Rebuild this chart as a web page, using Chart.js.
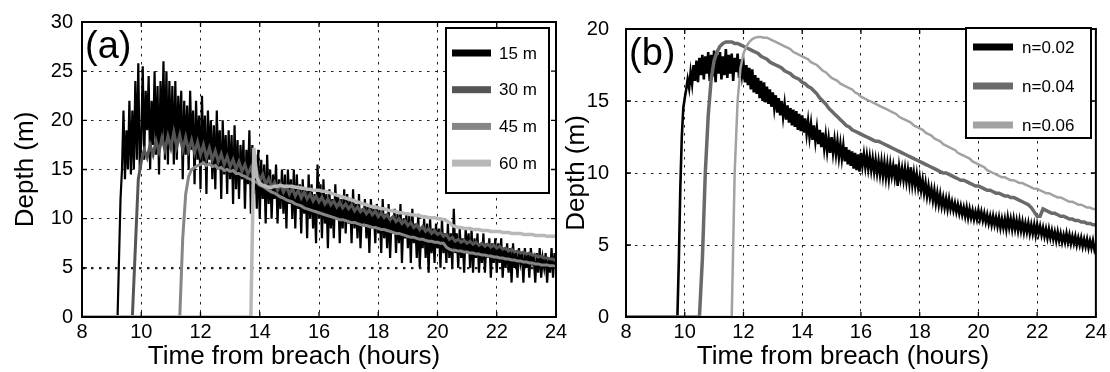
<!DOCTYPE html>
<html><head><meta charset="utf-8">
<script src="https://cdn.jsdelivr.net/npm/chart.js@4.4.1/dist/chart.umd.min.js"></script>
<style>
html,body{margin:0;padding:0;background:#fff;}
#wrap{position:relative;width:1110px;height:372px;overflow:hidden;background:#fff;}
canvas{position:absolute;top:0;}
#ca{left:0;width:600px;height:372px;}
#cb{left:555px;width:555px;height:372px;}
</style></head><body>
<div id="wrap"><canvas id="ca" width="600" height="372"></canvas><canvas id="cb" width="555" height="372"></canvas></div>
<script>
// ---------- data ----------
const startHour = 8;
const xTicks = [8, 10, 12, 14, 16, 18, 20, 22, 24];
const yTicksA = [0, 5, 10, 15, 20, 25, 30];
const yTicksB = [0, 5, 10, 15, 20];
const labelsA = ['15 m', '30 m', '45 m', '60 m'];
const labelsB = ['n=0.02', 'n=0.04', 'n=0.06'];
const xTitle = 'Time from breach (hours)';
const yTitle = 'Depth (m)';

// panel (a) 15 m : first sample 9.20 h, every 0.05 h
const start15 = 9.2, step15 = 0.05;
const depth15 = [0, 6, 12, 15, 21, 14, 19, 15, 22, 14.5, 21, 15, 24, 16, 25.8, 15,
 18, 25.5, 16, 23, 19, 24.5, 15, 22, 17.5, 25, 16.5, 23.5, 14.5, 24, 18, 26, 16, 25, 15.5, 24,
 17, 23.5, 15.5, 24, 16, 22.5, 18, 23, 14, 22, 16.5, 21.5, 15, 23, 17, 21, 13.5, 22, 16, 20.5,
 13, 22.5, 15.5, 20.5, 12.5, 21, 16, 20, 14, 19.5, 13, 21, 15, 19, 12, 20, 14.5, 18.5, 12.5, 19,
 14, 18.5, 11.5, 19.5, 13, 18, 12, 17.5, 14, 18, 11, 17, 13.5, 19, 10.5, 17.5, 12.5, 16.5, 11, 17,
 10, 16, 12, 15.5, 9.5, 16.5, 11.5, 15, 10, 14.5, 12, 15.5, 9.5, 14, 11, 15, 10.5, 14.5, 9, 15,
 11.5, 14, 10, 15, 9, 14.5, 11, 13.5, 8.5, 14, 10.5, 13, 8, 14.5, 10, 13.5, 9, 12.5, 7.5, 15.5,
 10, 13.5, 8, 14, 9.5, 12.5, 7, 13, 9, 12, 8, 13.5, 10, 12.5, 7.5, 12, 9, 13, 8.5, 12.5,
 9.5, 12, 7.5, 13, 9, 11.5, 8, 12.5, 7, 11, 9.5, 12, 8, 11.5, 6.5, 12, 9, 11, 7.5, 11.5,
 8.5, 11, 6.5, 12, 8, 10.5, 7, 11.5, 6, 10, 8.5, 11, 6.5, 10.5, 7.5, 11.5, 5.5, 10, 8, 10.5,
 7, 10.5, 5.5, 11, 7.5, 9.5, 6, 10.5, 5, 9, 7, 10, 6, 9.5, 4.5, 10, 6.5, 9, 5.5, 9.5,
 7, 9, 5, 10, 6.5, 8.5, 5.5, 9.5, 6, 8.5, 5, 11, 6.5, 8.5, 5, 9, 6, 8, 4.5, 9,
 6.5, 8.5, 5, 9, 4.5, 8, 6, 8.5, 4.5, 7.5, 5.5, 8.5, 4.5, 7.5, 6, 8, 4, 7.5, 5.5, 8,
 4.5, 7.5, 5.5, 8, 4, 7, 5, 7.5, 4.5, 7, 3.5, 7.5, 5, 6.5, 4, 7, 5.5, 6.5, 3.5, 7,
 5, 6.5, 4, 7, 5.5, 6, 3.5, 6.5, 4.5, 7, 4, 6, 5, 6.5, 3.5, 6, 4.5, 7, 4, 6.5,
 5];

// panel (a) 30 m : first sample 9.7 h, every 0.1 h
const start30 = 9.7, step30 = 0.1;
const depth30 = [0, 7, 14,
 15.8, 17, 16.2, 17.5, 16.5, 17.9, 16.8, 18.2, 17, 18.4,
 17.2, 18.8, 17.3, 18.5, 17, 18.3, 16.9, 18, 16.7, 17.8,
 16.5, 17.5, 16.2, 17.2, 16, 16.9, 15.8, 16.6, 15.5, 16.3,
 15.3, 16, 15, 15.8, 14.8, 15.5, 14.5, 15.2, 14.2, 14.9,
 13.8, 14.5, 13.5, 14.1, 13.2, 13.7, 12.9, 13.5, 12.7, 13.3,
 12.5, 13.1, 12.3, 12.9, 12.1, 12.7, 12, 12.5, 11.8, 12.3,
 11.7, 12.2, 11.5, 12, 11.4, 11.8, 11.2, 11.7, 11.1, 11.5,
 11, 11.4, 10.8, 11.2, 10.7, 11, 10.5, 10.9, 10.4, 10.8,
 10.2, 10.6, 10.1, 10.4, 9.9, 10.2, 9.7, 10, 9.5, 9.8,
 9.3, 9.6, 9.1, 9.4, 8.9, 9.2, 8.7, 9, 8.5, 8.8,
 8.4, 8.6, 8.2, 8.4, 7.9, 8.1, 7.7, 7.9, 7.6, 7.8,
 7.5, 7.7, 7.4, 7.6, 7.3, 7.5, 7.2, 7.4, 7.1, 7.3,
 7, 7.2, 6.9, 7, 6.7, 6.9, 6.6, 6.7, 6.5, 6.6,
 6.4, 6.5, 6.3, 6.3, 6.1, 6.2, 6, 6, 5.9, 5.9,
 5.7];

// panel (a) 45 m : first sample 11.3 h, every 0.1 h
const start45 = 11.3, step45 = 0.1;
const depth45 = [0, 8, 12.5, 14.3, 15, 15.2, 15.4,
 15.5, 15.7, 15.4, 15.6, 15.3, 15.4, 15.1, 15.2, 14.9, 15,
 14.8, 14.9, 14.6, 14.6, 14.4, 14.3, 14.1, 14, 13.8, 13.7,
 13.4, 13.3, 13.1, 12.9, 12.7, 12.6, 12.4, 12.2, 12.1, 11.9,
 11.8, 11.7, 11.5, 11.4, 11.3, 11.1, 11, 10.9, 10.8, 10.7,
 10.6, 10.5, 10.4, 10.3, 10.2, 10.1, 10, 9.9, 9.9, 9.8,
 9.7, 9.6, 9.6, 9.5, 9.4, 9.3, 9.3, 9.2, 9.1, 9.1,
 9, 8.9, 8.9, 8.8, 8.7, 8.6, 8.5, 8.5, 8.4, 8.3,
 8.2, 8.1, 8.1, 8, 7.9, 7.9, 7.8, 7.7, 7.7, 7.6,
 7.6, 7.5, 7.5, 7.1, 6.9, 6.8, 6.8, 6.7, 6.7, 6.6,
 6.6, 6.5, 6.5, 6.4, 6.4, 6.3, 6.3, 6.2, 6.2, 6.1,
 6.1, 6, 6, 5.9, 5.9, 5.8, 5.8, 5.7, 5.7, 5.6,
 5.6, 5.5, 5.5, 5.4, 5.4, 5.3, 5.3, 5.3, 5.2, 5.2,
 5.1];

// panel (a) 60 m : first sample 13.7 h, every 0.1 h
const start60 = 13.7, step60 = 0.1;
const depth60 = [0, 17.2, 14.2,
 13.6, 13.4, 13.3, 13.2, 13.2, 13.3, 13.3, 13.4, 13.3, 13.3,
 13.3, 13.3, 13.2, 13.2, 13.1, 13.1, 13, 13, 12.9, 12.9,
 12.9, 12.8, 12.8, 12.7, 12.6, 12.5, 12.4, 12.3, 12.2, 12.1,
 12, 11.9, 11.8, 11.7, 11.6, 11.5, 11.4, 11.3, 11.2, 11.2,
 11.1, 11, 11, 10.9, 10.8, 10.8, 10.7, 10.6, 10.6, 10.5,
 10.5, 10.4, 10.4, 10.3, 10.3, 10.2, 10.2, 10.1, 10.1, 10.1,
 10, 10, 9.9, 9.8, 9.6, 9.3, 9.2, 9.1, 9.1, 9,
 9, 9, 8.9, 8.9, 8.9, 8.8, 8.8, 8.8, 8.7, 8.7,
 8.7, 8.7, 8.6, 8.6, 8.6, 8.5, 8.5, 8.5, 8.5, 8.4,
 8.4, 8.4, 8.4, 8.3, 8.3, 8.3, 8.3, 8.2, 8.2, 8.2,
 8.2];

// panel (b) n=0.02 : first sample 9.75 h, every 0.05 h
const start002 = 9.75, step002 = 0.05;
const depth002 = [0, 4, 9, 12.5, 14.5,
 15.2, 15.8, 16.5, 15.9, 17, 16.2, 17.5, 16.4, 17.8, 16.3, 18, 16.8, 18.2, 16.5, 18.1, 16.9, 18.4, 16.4, 18.2, 16.7,
 18.5, 16.3, 18.2, 16.9, 18.4, 16.5, 18.1, 16.8, 18.6, 16.6, 18.2, 16.9, 18.3, 16.4, 18, 17, 18.3, 16.6, 17.9, 16.8,
 17.6, 16.3, 17.5, 16.1, 17.3, 15.8, 17.2, 15.6, 16.8, 15.5, 16.6, 15.2, 16.4, 15, 16.3, 14.9, 16, 14.8, 15.8, 14.6,
 15.6, 14.5, 15.4, 14.2, 15.2, 14, 15, 13.9, 14.8, 13.7, 14.7, 13.5, 14.5, 13.3, 14.4, 13.2, 14.3, 13, 14.1, 12.9,
 14, 12.8, 13.8, 12.7, 13.6, 12.5, 13.4, 12.3, 13.3, 12.2, 13.1, 12, 13, 11.8, 12.8, 11.7, 12.6, 11.5, 12.4, 11.4,
 12.5, 11.4, 12.3, 11.3, 12.2, 11.1, 12, 11, 11.9, 10.8, 11.8, 10.6, 11.6, 10.5, 11.5, 10.3, 11.4, 10.2, 11.3, 10.1,
 11.4, 10.5, 11.3, 10.4, 11.2, 10.3, 11.1, 10.2, 11, 10.1, 10.9, 10, 10.8, 9.9, 10.8, 9.8, 10.7, 9.7, 10.6, 9.6,
 10.6, 9.8, 10.5, 9.7, 10.6, 9.1, 10.4, 9.6, 10.3, 9.5, 10.3, 9.4, 10.2, 9.3, 10.4, 9.2, 10, 9.1, 9.9, 9,
 9.7, 8.8, 9.5, 8.6, 9.3, 8.4, 9.1, 8.3, 8.9, 8.1, 8.8, 7.9, 8.6, 7.8, 8.5, 7.7, 8.3, 7.6, 8.2, 7.5,
 8.2, 7.5, 8, 7.4, 7.9, 7.3, 7.8, 7.2, 7.7, 7.1, 7.6, 7, 7.6, 6.9, 7.5, 6.9, 7.4, 6.8, 7.3, 6.8,
 7.4, 6.8, 7.3, 6.7, 7.2, 6.6, 7.1, 6.5, 7, 6.4, 7, 6.4, 6.9, 6.3, 6.9, 6.2, 6.8, 6.2, 6.8, 6.1,
 6.9, 6.2, 6.8, 6.1, 6.8, 6.1, 6.7, 6, 6.7, 6, 6.6, 5.9, 6.5, 5.9, 6.5, 5.8, 6.4, 5.8, 6.4, 5.7,
 6.4, 5.8, 6.3, 5.7, 6.2, 5.6, 6.1, 5.5, 6.1, 5.5, 6, 5.4, 5.9, 5.3, 5.9, 5.3, 5.8, 5.2, 5.7, 5.2,
 5.8, 5.2, 5.7, 5.1, 5.6, 5.1, 5.6, 5, 5.5, 5, 5.5, 4.9, 5.4, 4.9, 5.4, 4.8, 5.3, 4.8, 5.3, 4.7,
 5.1];

// panel (b) n=0.04 : first sample 10.5 h, every 0.1 h
const start004 = 10.5, step004 = 0.1;
const depth004 = [0, 4, 10, 14, 16.5,
 17.8, 18.4, 18.8, 19, 19.1, 19.1, 19.1, 19, 19, 18.9,
 18.8, 18.7, 18.6, 18.5, 18.4, 18.3, 18.1, 18, 17.9, 17.7,
 17.6, 17.5, 17.4, 17.3, 17.1, 17, 16.9, 16.7, 16.6, 16.5,
 16.3, 16.2, 16, 15.9, 15.7, 15.5, 15.2, 15, 14.8, 14.5,
 14.3, 14.1, 13.9, 13.7, 13.5, 13.3, 13.2, 13, 12.9, 12.8,
 12.7, 12.6, 12.5, 12.4, 12.3, 12.2, 12.2, 12.1, 12, 11.9,
 11.8, 11.7, 11.6, 11.5, 11.4, 11.3, 11.2, 11.1, 11, 10.9,
 10.8, 10.7, 10.6, 10.5, 10.4, 10.3, 10.2, 10.1, 10, 10,
 9.9, 9.8, 9.7, 9.6, 9.5, 9.5, 9.4, 9.3, 9.2, 9.1,
 9.1, 9, 8.9, 8.8, 8.8, 8.7, 8.6, 8.6, 8.5, 8.4,
 8.4, 8.3, 8.3, 8.2, 8.1, 8, 7.9, 7.8, 7.6, 7.3,
 7, 7, 7.5, 7.4, 7.3, 7.2, 7.2, 7.1, 7, 7,
 6.9, 6.8, 6.8, 6.7, 6.7, 6.6, 6.6, 6.5, 6.5, 6.4,
 6.4];

// panel (b) n=0.06 : first sample 11.6 h, every 0.1 h
const start006 = 11.6, step006 = 0.1;
const depth006 = [0, 10, 15, 17.3,
 18.3, 18.8, 19.1, 19.3, 19.4, 19.45, 19.45, 19.4, 19.4, 19.3,
 19.2, 19.1, 19, 18.9, 18.8, 18.7, 18.6, 18.4, 18.3, 18.2,
 18.1, 18, 17.9, 17.7, 17.6, 17.5, 17.3, 17.1, 17, 16.8,
 16.6, 16.5, 16.4, 16.2, 16.1, 16, 15.9, 15.8, 15.6, 15.5,
 15.3, 15.2, 15.1, 15, 14.9, 14.8, 14.7, 14.6, 14.5, 14.4,
 14.3, 14.2, 14.1, 13.9, 13.8, 13.7, 13.6, 13.5, 13.3, 13.2,
 13.1, 13, 12.8, 12.7, 12.6, 12.4, 12.3, 12.2, 12, 11.9,
 11.8, 11.7, 11.6, 11.4, 11.3, 11.2, 11.1, 11, 10.8, 10.7,
 10.6, 10.5, 10.4, 10.2, 10.1, 10, 9.9, 9.8, 9.7, 9.7,
 9.6, 9.5, 9.5, 9.4, 9.3, 9.3, 9.2, 9.1, 9, 8.9,
 8.9, 8.8, 8.7, 8.6, 8.6, 8.5, 8.4, 8.3, 8.3, 8.2,
 8.1, 8, 8, 7.9, 7.8, 7.8, 7.7, 7.6, 7.6, 7.5,
 7.5];

// ---------- helpers ----------
function toPoints(start, step, values) {
  const pts = [{x: startHour, y: 0}];
  values.forEach((v, i) => pts.push({x: Math.round((start + i * step) * 1000) / 1000, y: v}));
  return pts;
}
const FONT = '"Liberation Sans", Arial, Helvetica, sans-serif';

const framePlugin = {
  id: 'frame',
  afterDatasetsDraw(chart, args, opts) {
    const {ctx, chartArea: a, scales: {x, y}} = chart;
    ctx.save();
    ctx.strokeStyle = '#000';
    ctx.lineWidth = 2;
    ctx.strokeRect(a.left, a.top, a.right - a.left, a.bottom - a.top);
    ctx.lineWidth = 1.3;
    ctx.beginPath();
    x.ticks.forEach(t => {
      const p = x.getPixelForValue(t.value);
      ctx.moveTo(p, a.bottom); ctx.lineTo(p, a.bottom - 5);
      ctx.moveTo(p, a.top); ctx.lineTo(p, a.top + 5);
    });
    y.ticks.forEach(t => {
      const p = y.getPixelForValue(t.value);
      ctx.moveTo(a.left, p); ctx.lineTo(a.left + 5, p);
      ctx.moveTo(a.right, p); ctx.lineTo(a.right - 5, p);
    });
    ctx.stroke();
    // panel label
    ctx.fillStyle = '#000';
    ctx.font = '38px ' + FONT;
    ctx.textAlign = 'left';
    ctx.textBaseline = 'alphabetic';
    ctx.fillText(opts.label, a.left + 3, a.top + 36);
    // legend
    const L = opts.legend;
    ctx.fillStyle = '#fff';
    ctx.fillRect(L.x, L.y, L.w, L.h);
    ctx.lineWidth = 2;
    ctx.strokeStyle = '#000';
    ctx.strokeRect(L.x, L.y, L.w, L.h);
    ctx.font = '17px ' + FONT;
    ctx.textBaseline = 'middle';
    chart.data.datasets.forEach((ds, i) => {
      const yy = L.y + L.first + i * L.gap;
      ctx.fillStyle = ds.borderColor;
      ctx.fillRect(L.x + L.sx, yy - L.sh / 2, L.sw, L.sh);
      ctx.fillStyle = '#000';
      ctx.fillText(ds.label, L.x + L.tx, yy + 1);
    });
    ctx.restore();
  },
  afterDraw(chart, args, opts) {
    // x-axis title (slightly left of the plot centre, as in the original figure)
    const {ctx, chartArea: a} = chart;
    ctx.save();
    ctx.fillStyle = '#000';
    ctx.font = '26px ' + FONT;
    ctx.textAlign = 'center';
    ctx.textBaseline = 'alphabetic';
    ctx.fillText(xTitle, (a.left + a.right) / 2 + opts.titleShift, chart.height - 8);
    ctx.restore();
  }
};

function makeChart(id, datasets, yMax, yTicks, opt) {
  return new Chart(document.getElementById(id), {
    type: 'line',
    data: {datasets},
    plugins: [framePlugin],
    options: {
      responsive: false,
      animation: false,
      events: [],
      layout: {padding: {left: 0, top: 22, right: opt.padRight, bottom: 0}},
      elements: {point: {radius: 0}, line: {tension: 0}},
      plugins: {
        legend: {display: false},
        tooltip: {enabled: false},
        frame: {label: opt.label, legend: opt.legend, titleShift: opt.titleShift}
      },
      scales: {
        x: {
          type: 'linear', min: xTicks[0], max: xTicks[xTicks.length - 1],
          afterBuildTicks: s => { s.ticks = xTicks.map(v => ({value: v})); },
          afterFit: s => { s.height = 55; },
          grid: {color: '#222', lineWidth: 1, drawTicks: false},
          border: {display: true, color: '#000', width: 2, dash: [2.5, 5.5]},
          ticks: {color: '#000', padding: 3, font: {family: FONT, size: 20}, maxRotation: 0, autoSkip: false},
          title: {display: false}
        },
        y: {
          type: 'linear', min: 0, max: yMax,
          afterBuildTicks: s => { s.ticks = yTicks.map(v => ({value: v})); },
          afterFit: s => { s.width = opt.yWidth; },
          grid: {color: '#222', lineWidth: opt.gridWidth, drawTicks: false},
          border: {display: true, color: '#000', width: 2, dash: [2.5, 5.5]},
          ticks: {color: '#000', padding: opt.yPad, font: {family: FONT, size: 20}, autoSkip: false},
          title: {display: true, text: yTitle, color: '#000',
                  font: {family: FONT, size: 26}, padding: {top: opt.yTitlePad, bottom: 0}}
        }
      }
    }
  });
}

makeChart('ca', [
  {label: labelsA[0], data: toPoints(start15, step15, depth15), borderColor: '#000000', borderWidth: 2.2, order: 4},
  {label: labelsA[1], data: toPoints(start30, step30, depth30), borderColor: '#555555', borderWidth: 3, order: 3},
  {label: labelsA[2], data: toPoints(start45, step45, depth45), borderColor: '#868686', borderWidth: 3, order: 2},
  {label: labelsA[3], data: toPoints(start60, step60, depth60), borderColor: '#b8b8b8', borderWidth: 3.5, order: 1}
], 30, yTicksA, {
  label: '(a)', padRight: 44, yWidth: 82, yPad: 9, yTitlePad: 10, titleShift: -25,
  gridWidth: c => (c.tick && c.tick.value === 5 ? 2.2 : 1),
  legend: {x: 446, y: 28, w: 103, h: 165, first: 25, gap: 36.7, sx: 6, sw: 39, sh: 7, tx: 53}
});

makeChart('cb', [
  {label: labelsB[0], data: toPoints(start002, step002, depth002), borderColor: '#000000', borderWidth: 2.6, order: 3},
  {label: labelsB[1], data: toPoints(start004, step004, depth004), borderColor: '#6a6a6a', borderWidth: 3.5, order: 2},
  {label: labelsB[2], data: toPoints(start006, step006, depth006), borderColor: '#a2a2a2', borderWidth: 2.5, order: 1}
], 20, yTicksB, {
  label: '(b)', padRight: 12, yWidth: 71, yPad: 17, yTitlePad: 6, titleShift: -18,
  gridWidth: 1,
  legend: {x: 411, y: 28, w: 125, h: 110, first: 19, gap: 39, sx: 7, sw: 40, sh: 7, tx: 56}
});
</script>
</body></html>
